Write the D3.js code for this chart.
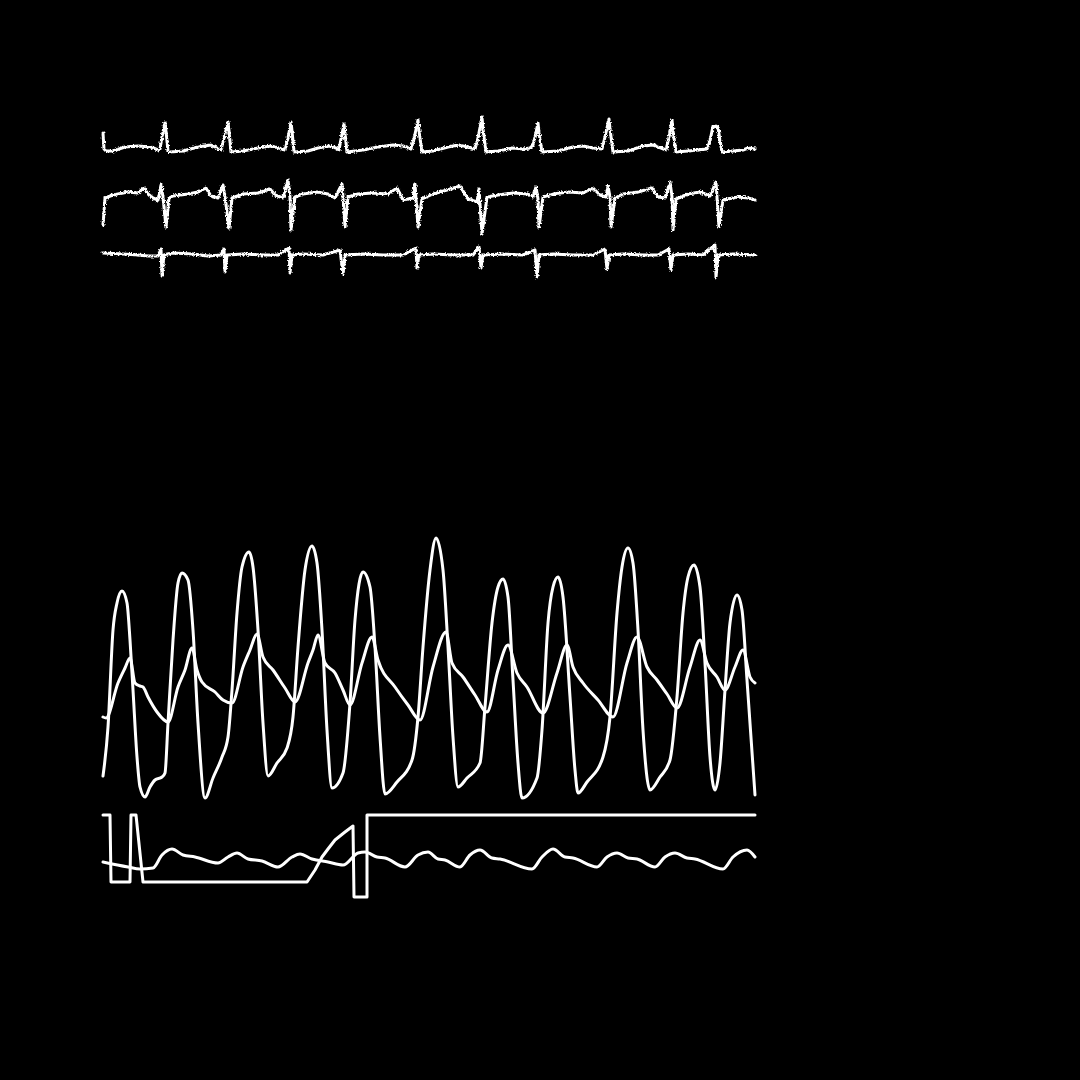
<!DOCTYPE html>
<html>
<head>
<meta charset="utf-8">
<script src="https://cdn.jsdelivr.net/npm/d3@7"></script>
<style>
  html, body { margin: 0; padding: 0; background: #000; }
  svg { display: block; }
</style>
</head>
<body>
<svg id="chart" width="1080" height="1080"></svg>
<script>
// ---- Data: time in samples (0..652), amplitudes in arbitrary units ----
// ECG lead I
const ecg1 = [
  [0,18],[1,2],[3,0],[10,0],[22,4],[35,5],[48,4],[55,1],[57,2],[59,14],[62,29],[63,20],[65,0],[67,-1],
  [80,0],[95,4],[108,6],[114,3],[118,1],[121,13],[125,29],[126,20],[128,-1],
  [140,0],[155,3],[168,5],[176,3],[182,1],[185,13],[188,29],[189,20],[191,-1],
  [205,0],[215,3],[226,5],[233,3],[236,1],[238,12],[241,27],[242,18],[244,-1],
  [260,1],[275,4],[290,6],[300,5],[308,2],[311,12],[315,31],[316,20],[319,-1],
  [330,0],[345,4],[355,6],[365,4],[372,2],[375,13],[379,34],[380,22],[383,-1],
  [395,0],[410,3],[420,2],[427,3],[430,6],[432,14],[435,28],[436,18],[439,-1],
  [455,0],[470,4],[480,5],[490,3],[499,2],[502,14],[506,32],[507,22],[510,-1],
  [525,0],[540,5],[550,6],[558,3],[563,1],[566,14],[569,31],[570,20],[573,-1],
  [585,0],[595,1],[604,2],[607,10],[610,25],[611,24],[613,25],[615,24],[617,10],[619,-1],
  [630,0],[640,1],[645,3],[652,2]
];
// ECG lead II
const ecg2 = [
  [0,-28],[2,-1],[10,2],[25,5],[35,4],[41,9],[45,3],[50,-1],[55,-3],[58,12],[60,0],[63,-30],[66,-1],
  [70,1],[85,3],[95,5],[103,9],[108,1],[115,-1],[120,12],[122,0],[126,-31],[129,-1],
  [140,3],[155,4],[167,8],[172,2],[180,-1],[185,17],[187,0],[188,-33],[192,0],
  [200,3],[214,5],[225,3],[232,-1],[239,13],[240,0],[242,-30],[245,0],
  [255,3],[270,4],[285,3],[294,9],[300,-3],[310,-1],[312,13],[315,-30],[319,-2],
  [330,3],[344,7],[357,11],[365,-2],[374,-5],[376,8],[379,-37],[384,0],
  [395,2],[410,4],[425,3],[430,0],[433,10],[435,-2],[436,-30],[440,0],
  [450,3],[465,5],[480,4],[490,9],[497,2],[503,0],[505,11],[507,0],[508,-30],[512,-1],
  [520,3],[535,5],[549,9],[555,0],[562,-1],[567,15],[569,0],[570,-33],[573,-2],
  [585,3],[597,5],[607,1],[613,15],[614,0],[616,-30],[620,-3],[635,0],[645,-1],[652,-3]
];
// ECG lead III
const ecg3 = [
  [0,2],[20,1],[35,0],[45,-1],[55,-1],[58,6],[59,-20],[61,0],
  [70,2],[90,1],[105,-1],[118,0],[121,6],[122,-17],[124,0],
  [140,1],[160,0],[175,0],[186,7],[187,-18],[189,0],
  [200,1],[220,0],[237,5],[240,-19],[242,0],
  [260,1],[280,0],[300,0],[313,7],[314,-13],[316,0],
  [330,1],[350,0],[370,0],[376,8],[378,-13],[380,0],
  [400,1],[420,0],[432,5],[434,-22],[436,0],
  [450,1],[470,0],[490,0],[502,6],[504,-14],[506,0],
  [520,1],[540,0],[555,0],[566,6],[568,-15],[570,0],
  [585,1],[600,0],[612,10],[613,-22],[615,0],[630,1],[652,0]
];
// Arterial pressure (large trace)
const pressureA = [
  [0,34],[5,83],[10,180],[14,207],[19,219],[24,207],[27,170],[30,120],[34,53],[37,23],[42,13],[47,23],[52,30],[59,33],[62,37],
  [65,87],[70,170],[75,227],[79,237],[85,230],[90,180],[95,87],[102,12],[110,32],[119,53],[125,73],
  [129,120],[134,197],[139,243],[146,258],[150,243],[155,180],[160,87],[165,34],[174,47],[184,62],
  [190,93],[195,163],[202,240],[209,264],[214,247],[219,180],[224,80],[229,22],[240,37],
  [247,107],[252,190],[260,238],[267,223],[272,163],[277,73],[282,16],[294,28],[309,50],
  [315,93],[320,163],[327,240],[333,272],[340,240],[345,163],[350,73],[355,23],[364,32],[377,47],
  [382,103],[389,187],[395,223],[400,231],[405,213],[410,130],[415,47],[419,12],[434,32],
  [439,80],[445,187],[450,223],[455,233],[460,213],[467,113],[472,40],[475,17],[484,28],[500,53],
  [507,93],[514,197],[519,243],[525,262],[530,247],[535,180],[540,80],[547,20],[557,33],[567,50],
  [574,113],[580,197],[585,233],[591,245],[597,223],[602,147],[607,53],[612,20],
  [617,47],[622,120],[627,187],[634,215],[639,200],[644,130],[652,15]
];
// Second pressure trace (medium)
const pressureB = [
  [0,93],[3,92],[15,127],[22,142],[27,152],[32,127],[37,124],[40,123],[45,113],[54,98],[65,88],
  [75,123],[82,140],[89,162],[94,140],[99,128],[112,118],[120,110],[129,107],
  [140,143],[147,160],[154,176],[160,153],[170,140],[182,122],[192,108],
  [205,147],[210,160],[215,175],[222,147],[232,137],[240,120],[247,105],
  [259,147],[269,173],[275,150],[292,123],[305,105],[317,90],
  [330,143],[343,178],[349,147],[360,133],[372,115],[384,98],
  [395,140],[405,165],[414,137],[424,123],[440,97],
  [454,137],[464,165],[470,143],[480,127],[495,110],[510,93],
  [524,147],[534,173],[544,143],[554,130],[564,116],[574,102],
  [587,143],[597,170],[604,147],[614,133],[622,120],[632,143],[640,160],[647,133],[652,127]
];
// Step / marker signal
const stepSignal = [
  [0,85],[7,85],[8,18],[27,18],[28,85],[33,85],[40,18],[204,18],[212,30],[219,43],[225,51],
  [232,60],[242,68],[250,74],[251,3],[264,3],[264,85],[652,85]
];
// Respiration-like wave
const respiration = [
  [0,38],[25,33],[37,31],[50,32],[59,45],[69,51],[80,45],[92,43],[115,37],[125,43],[134,47],
  [145,41],[159,39],[175,33],[189,43],[197,46],[209,41],[225,38],[240,35],[255,47],[262,48],
  [274,43],[282,42],[302,33],[315,45],[325,48],[335,41],[342,40],[357,33],[367,45],[377,50],
  [389,42],[397,41],[429,31],[439,43],[450,51],[462,43],[470,42],[494,33],[504,43],[514,47],
  [525,42],[534,41],[552,33],[562,43],[572,47],[584,42],[592,41],[620,31],[630,43],[644,50],[652,43]
];

// ---- Drawing ----
const svg = d3.select("#chart");
svg.append("rect").attr("width", 1080).attr("height", 1080).attr("fill", "#000");

// Rough texture for the noisy ECG traces (deterministic SVG turbulence)
const defs = svg.append("defs");
const filt = defs.append("filter").attr("id", "rough")
  .attr("x", "-5%").attr("y", "-50%").attr("width", "110%").attr("height", "200%");
filt.append("feTurbulence").attr("type", "fractalNoise")
  .attr("baseFrequency", "0.6").attr("numOctaves", 2).attr("seed", 3).attr("result", "noise");
filt.append("feDisplacementMap").attr("in", "SourceGraphic").attr("in2", "noise")
  .attr("scale", 3.5).attr("xChannelSelector", "R").attr("yChannelSelector", "G");

const x = d3.scaleLinear().domain([0, 652]).range([103, 755]);

const yEcg1 = d3.scaleLinear().domain([-40, 40]).range([191, 111]);
const yEcg2 = d3.scaleLinear().domain([-40, 40]).range([237, 157]);
const yEcg3 = d3.scaleLinear().domain([-40, 40]).range([295, 215]);
const yPress = d3.scaleLinear().domain([0, 280]).range([810, 530]);
const yBottom = d3.scaleLinear().domain([0, 100]).range([900, 800]);

function draw(data, yScale, curve, width, rough) {
  const line = d3.line()
    .x(d => x(d[0]))
    .y(d => yScale(d[1]))
    .curve(curve);
  const p = svg.append("path")
    .datum(data)
    .attr("d", line)
    .attr("fill", "none")
    .attr("stroke", "#fff")
    .attr("stroke-width", width)
    .attr("stroke-linejoin", "round")
    .attr("stroke-linecap", "round");
  if (rough) p.attr("filter", "url(#rough)");
}

draw(ecg1, yEcg1, d3.curveLinear, 3, true);
draw(ecg2, yEcg2, d3.curveLinear, 3, true);
draw(ecg3, yEcg3, d3.curveLinear, 3, true);
draw(pressureA, yPress, d3.curveMonotoneX, 3, false);
draw(pressureB, yPress, d3.curveMonotoneX, 3, false);
draw(stepSignal, yBottom, d3.curveLinear, 3, false);
draw(respiration, yBottom, d3.curveMonotoneX, 3, false);
</script>
</body>
</html>
